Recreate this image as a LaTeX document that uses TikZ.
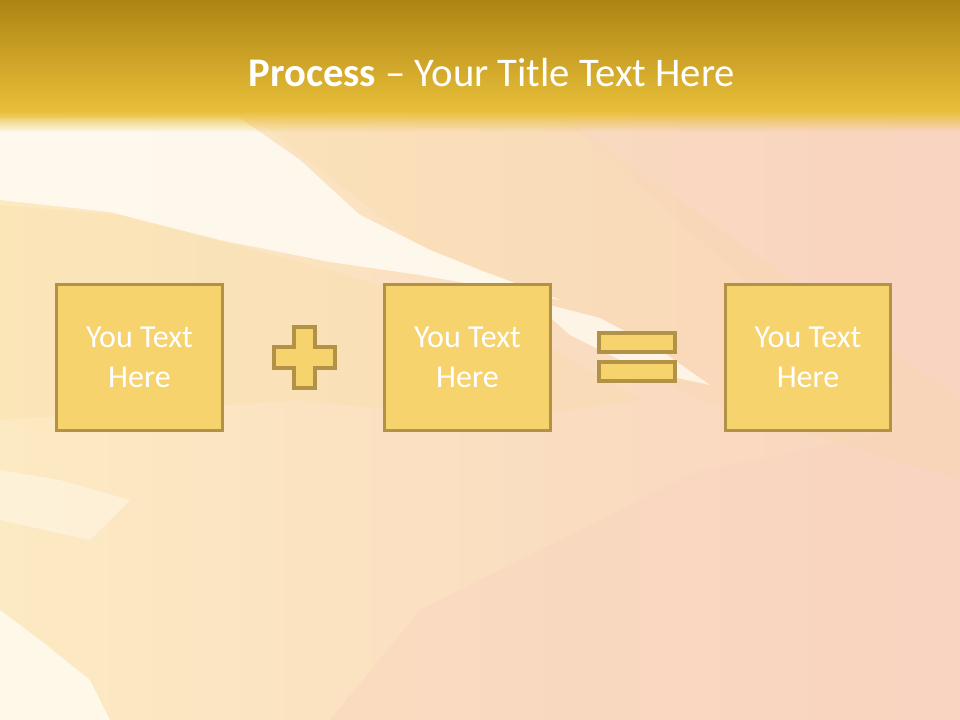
\documentclass[tikz,border=0pt]{standalone}
\usepackage{fontspec}
\setmainfont{Carlito}
\usetikzlibrary{shapes,positioning,fadings,shadings}
\definecolor{hdrtop}{HTML}{AD8412}
\definecolor{hdrbot}{HTML}{E9BF3A}
\definecolor{cream}{HTML}{FFFBF1}
\definecolor{peach}{HTML}{F9D4C0}
\definecolor{sandy}{HTML}{FCEAC2}
\definecolor{midtone}{HTML}{FBE0C0}
\definecolor{streak}{HTML}{F8D990}
\definecolor{boxfill}{HTML}{F7D36E}
\definecolor{boxline}{HTML}{B19246}
\tikzset{
  procbox/.style={draw=boxline, fill=boxfill, line width=2.4pt, minimum width=124pt, minimum height=109pt, align=center, text=white, font=\fontsize{24}{30}\selectfont, inner sep=0pt},
  opsign/.style={draw=boxline, fill=boxfill, line width=2.4pt}
}
\begin{document}
\begin{tikzpicture}[x=0.75pt,y=-0.75pt]
\useasboundingbox (0,0) rectangle (960,720);
\shade[left color=sandy, middle color=midtone, right color=peach] (0,0) rectangle (960,720);
\fill[peach, opacity=0.45] (330,720) -- (420,610) -- (560,540) -- (700,470) -- (960,420) -- (960,720) -- cycle;
\fill[peach, opacity=0.35] (560,115) -- (960,115) -- (960,420) -- (800,330) -- cycle;
\fill[streak, opacity=0.15] (250,115) -- (560,115) -- (820,300) -- (960,400) -- (960,480) -- (700,400) -- (450,270) -- cycle;
\fill[streak, opacity=0.2] (0,205) -- (120,215) -- (330,270) -- (520,330) -- (640,400) -- (500,420) -- (300,400) -- (0,420) -- cycle;
\fill[cream, opacity=0.9] (0,118) -- (240,118) -- (300,160) -- (360,215) -- (430,250) -- (480,270) -- (560,300) -- (420,275) -- (330,262) -- (220,240) -- (110,212) -- (0,200) -- cycle;
\fill[cream, opacity=0.8] (530,300) -- (600,318) -- (660,350) -- (710,385) -- (640,370) -- (570,335) -- cycle;
\fill[cream, opacity=0.45] (0,470) -- (60,480) -- (130,500) -- (90,540) -- (0,520) -- cycle;
\fill[cream, opacity=0.85] (0,610) -- (40,640) -- (90,680) -- (110,720) -- (0,720) -- cycle;
\shade[top color=hdrtop, bottom color=hdrbot] (0,0) rectangle (960,112);
\fill[hdrbot, path fading=south] (0,111) rectangle (960,132);
\node[anchor=base, text=white, font=\fontsize{30.5}{36}\selectfont] (title) at (492,87) {\textbf{Process} – Your Title Text Here};
\node[procbox] (boxA) at (139.5,357.5) {You Text\\Here};
\node[procbox] (boxB) at (467.5,357.5) {You Text\\Here};
\node[procbox] (boxC) at (808,357.5) {You Text\\Here};
\draw[opsign] (294,327) -- (315,327) -- (315,347) -- (335,347) -- (335,368) -- (315,368) -- (315,388) -- (294,388) -- (294,368) -- (274,368) -- (274,347) -- (294,347) -- cycle;
\draw[opsign] (599,333) rectangle (675,352);
\draw[opsign] (599,362) rectangle (675,381);
\end{tikzpicture}
\end{document}
